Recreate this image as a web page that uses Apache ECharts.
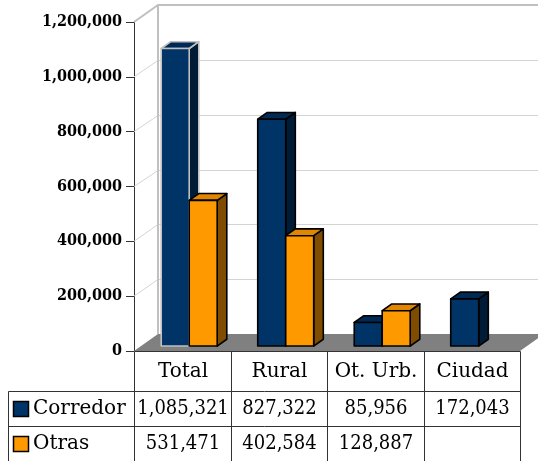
<!DOCTYPE html>
<html>
<head>
<meta charset="utf-8">
<script src="https://cdn.jsdelivr.net/npm/echarts@6/dist/echarts.min.js"></script>
<style>
html, body { margin: 0; padding: 0; background: #fff; }
#container { width: 538px; height: 461px; }
</style>
</head>
<body>
<div id="container"></div>
<script>
// datos
var categories = ['Total', 'Rural', 'Ot. Urb.', 'Ciudad'];
var seriesNames = ['Corredor', 'Otras'];
var corredor = [1085321, 827322, 85956, 172043];
var otras = [531471, 402584, 128887, null];
var yTicks = [0, 200000, 400000, 600000, 800000, 1000000, 1200000];

var FONT = "'DejaVu Serif', serif";
var FONT_NUM = "'DejaVu Serif Condensed', 'DejaVu Serif', serif";
var DEPTH = [24, -17];        // profundidad de las paredes (px)
var BAR_FRONT = 0.29, BAR_BACK = 0.69, BAR_W = 0.29;

var colors = [
    { front: '#003366', top: '#002a55', side: '#001b36' },
    { front: '#ff9900', top: '#e08600', side: '#7f4c00' }
];

function fmt(v) {
    if (v == null) return '';
    return String(v).replace(/\B(?=(\d{3})+(?!\d))/g, ',');
}

function px(v) { return Math.round(v) + 0.5; }

// paredes, lineas de division y piso
function renderWalls(params, api) {
    var n = categories.length;
    var band = api.size([1, 0])[0];
    var p0 = api.coord([0, 0]);
    var left = p0[0] - band / 2;
    var right = api.coord([n - 1, 0])[0] + band / 2;
    var base = p0[1];
    var top = api.coord([0, yTicks[yTicks.length - 1]])[1];
    var dx = DEPTH[0], dy = DEPTH[1];
    var children = [];

    for (var i = 1; i < yTicks.length - 1; i++) {
        var y = api.coord([0, yTicks[i]])[1];
        children.push({
            type: 'polyline',
            shape: { points: [[left, y], [left + dx, px(y + dy)], [right + dx + 40, px(y + dy)]] },
            style: { stroke: '#d4d4d4', lineWidth: 1, fill: null }
        });
    }
    children.push({
        type: 'polyline',
        shape: { points: [[left, top], [left + dx, top + dy], [right + dx + 40, top + dy]] },
        style: { stroke: '#c0c0c0', lineWidth: 2, fill: null }
    });
    children.push({
        type: 'line',
        shape: { x1: left + dx, y1: top + dy, x2: left + dx, y2: base + dy },
        style: { stroke: '#c0c0c0', lineWidth: 2 }
    });
    children.push({
        type: 'polygon',
        shape: { points: [[left, base], [right, base], [right + dx, base + dy], [left + dx, base + dy]] },
        style: { fill: '#808080' }
    });
    return { type: 'group', children: children };
}

// barras 3D
function makeBarRender(si) {
    return function (params, api) {
        var ci = api.value(0);
        var v = api.value(1);
        var band = api.size([1, 0])[0];
        var w = band * BAR_W;
        var c = api.coord([ci, 0]);
        var t = api.coord([ci, v]);
        var fx = DEPTH[0] * BAR_FRONT, fy = DEPTH[1] * BAR_FRONT;
        var bx = DEPTH[0] * (BAR_BACK - BAR_FRONT), by = DEPTH[1] * (BAR_BACK - BAR_FRONT);
        var x0 = c[0] - w + si * w + fx, x1 = x0 + w;
        var yb = c[1] + fy, yt = t[1] + fy;
        var stroke = (si === 0 && ci === 0) ? '#c0c0c0' : '#000';
        var col = colors[si];
        function st(fill) {
            return { fill: fill, stroke: stroke, lineWidth: 1.6, lineJoin: 'round' };
        }
        return {
            type: 'group',
            children: [
                { type: 'polygon', shape: { points: [[x1, yt], [x1 + bx, yt + by], [x1 + bx, yb + by], [x1, yb]] }, style: st(col.side) },
                { type: 'polygon', shape: { points: [[x0, yt], [x1, yt], [x1 + bx, yt + by], [x0 + bx, yt + by]] }, style: st(col.top) },
                { type: 'rect', shape: { x: x0, y: yt, width: w, height: yb - yt }, style: st(col.front) }
            ]
        };
    };
}

// tabla de datos
function renderTable(params, api) {
    var n = categories.length;
    var band = api.size([1, 0])[0];
    var p0 = api.coord([0, 0]);
    var base = p0[1];
    var xs = [];
    for (var i = 0; i <= n; i++) xs.push(px(p0[0] - band / 2 + i * band));
    var ys = [px(base), px(base + 40), px(base + 75), px(base + 110)];
    var keyLeft = 8.5;
    var lc = '#333';
    var children = [];

    children.push({ type: 'line', shape: { x1: xs[0], y1: ys[0], x2: xs[n], y2: ys[0] }, style: { stroke: lc, lineWidth: 1 } });
    for (var r = 1; r < ys.length; r++) {
        children.push({ type: 'line', shape: { x1: keyLeft, y1: ys[r], x2: xs[n], y2: ys[r] }, style: { stroke: lc, lineWidth: 1 } });
    }
    for (var k = 0; k <= n; k++) {
        children.push({ type: 'line', shape: { x1: xs[k], y1: ys[0], x2: xs[k], y2: ys[3] }, style: { stroke: lc, lineWidth: 1 } });
    }
    children.push({ type: 'line', shape: { x1: keyLeft, y1: ys[1], x2: keyLeft, y2: ys[3] }, style: { stroke: lc, lineWidth: 1 } });

    var txt = { fontFamily: FONT, fontSize: 20, fill: '#000', align: 'center', verticalAlign: 'middle' };
    for (var c = 0; c < n; c++) {
        children.push({
            type: 'text',
            style: Object.assign({ x: (xs[c] + xs[c + 1]) / 2, y: (ys[0] + ys[1]) / 2, text: categories[c] }, txt)
        });
    }
    var rows = [corredor, otras];
    for (var s = 0; s < rows.length; s++) {
        var ym = (ys[s + 1] + ys[s + 2]) / 2;
        children.push({
            type: 'rect',
            shape: { x: 13.5, y: Math.round(ym - 8) + 0.5, width: 15, height: 15 },
            style: { fill: colors[s].front, stroke: '#000', lineWidth: 1.5 }
        });
        children.push({
            type: 'text',
            style: Object.assign({}, txt, { x: 33, y: ym, text: seriesNames[s], align: 'left' })
        });
        for (var j = 0; j < n; j++) {
            children.push({
                type: 'text',
                style: Object.assign({}, txt, { x: (xs[j] + xs[j + 1]) / 2, y: ym, text: fmt(rows[s][j]), fontFamily: FONT_NUM })
            });
        }
    }
    return { type: 'group', children: children };
}

function toData(arr) {
    var out = [];
    for (var i = 0; i < arr.length; i++) {
        if (arr[i] != null) out.push([i, arr[i]]);
    }
    return out;
}

var myChart = echarts.init(document.getElementById('container'));

var option = {
    animation: false,
    grid: { left: 134, right: 18, top: 22, bottom: 110 },
    xAxis: {
        type: 'category',
        data: categories,
        show: false
    },
    yAxis: {
        type: 'value',
        min: 0,
        max: 1200000,
        interval: 200000,
        axisLine: { show: true, lineStyle: { color: '#333', width: 1 } },
        axisTick: { show: true, length: 8, lineStyle: { color: '#333' } },
        splitLine: { show: false },
        axisLabel: {
            margin: 12,
            fontFamily: FONT_NUM,
            fontWeight: 'bold',
            fontSize: 16,
            color: '#000',
            formatter: fmt
        }
    },
    series: [{
        type: 'custom',
        renderItem: renderWalls,
        data: [[0, 0]],
        z: 1,
        silent: true
    }, {
        name: seriesNames[0],
        type: 'custom',
        renderItem: makeBarRender(0),
        encode: { x: 0, y: 1 },
        data: toData(corredor),
        z: 2
    }, {
        name: seriesNames[1],
        type: 'custom',
        renderItem: makeBarRender(1),
        encode: { x: 0, y: 1 },
        data: toData(otras),
        z: 3
    }, {
        type: 'custom',
        renderItem: renderTable,
        data: [[0, 0]],
        z: 4,
        silent: true
    }]
};

myChart.setOption(option);
</script>
</body>
</html>
